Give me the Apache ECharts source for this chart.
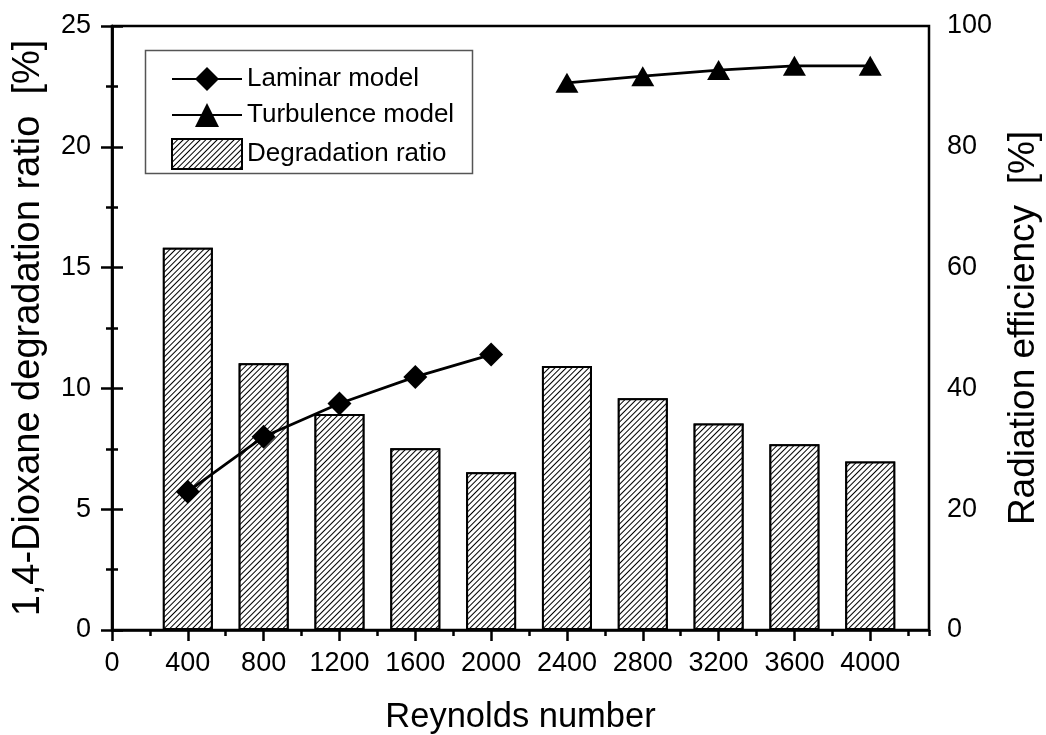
<!DOCTYPE html>
<html>
<head>
<meta charset="utf-8">
<script src="https://cdn.jsdelivr.net/npm/echarts@6/dist/echarts.min.js"></script>
<style>
html,body{margin:0;padding:0;background:#fff;}
#chart{width:1046px;height:735px;}
</style>
</head>
<body>
<div id="chart"></div>
<script>
// Reynolds numbers (x positions)
const reynolds = [400, 800, 1200, 1600, 2000, 2400, 2800, 3200, 3600, 4000];
// Degradation ratio [%] (left axis, bars)
const degradation = [15.82, 11.04, 8.94, 7.52, 6.53, 10.93, 9.59, 8.55, 7.69, 6.97];
// Radiation efficiency [%] (right axis)
const laminarRe = [400, 800, 1200, 1600, 2000];
const laminar = [22.9, 32.0, 37.5, 41.9, 45.6];
const turbulenceRe = [2400, 2800, 3200, 3600, 4000];
const turbulence = [90.6, 91.7, 92.7, 93.4, 93.4];

const FONT = 'Liberation Sans, Arial, sans-serif';

const chart = echarts.init(document.getElementById('chart'), null, {renderer: 'canvas'});

const axisLine = {show: true, lineStyle: {color: '#000', width: 2.5}};

chart.setOption({
  backgroundColor: '#fff',
  animation: false,
  grid: {left: 112, right: 117, top: 26, bottom: 105, containLabel: false, outerBoundsMode: 'none',
    show: true, borderColor: '#000', borderWidth: 2.5, backgroundColor: 'transparent'},
  legend: {
    orient: 'vertical',
    left: 171, top: 66, padding: 0,
    itemWidth: 70, itemHeight: 30, itemGap: 10,
    textStyle: {fontFamily: FONT, fontSize: 26, color: '#000'},
    data: [{name: 'Laminar model'}, {name: 'Turbulence model'}, {name: 'Degradation ratio', icon: 'rect'}]
  },
  graphic: [{
    type: 'rect', left: 143, top: 48, z: 0,
    shape: {width: 327, height: 123},
    style: {fill: 'none', stroke: '#555', lineWidth: 1.5}
  }],
  xAxis: [{
    type: 'value', min: 0, max: 4310, interval: 400,
    name: 'Reynolds number', nameLocation: 'middle', nameGap: 70,
    nameTextStyle: {fontFamily: FONT, fontSize: 34.5, color: '#000'},
    axisLine: axisLine,
    axisTick: {show: true, length: 11, lineStyle: {color: '#000', width: 2.5}},
    axisLabel: {fontFamily: FONT, fontSize: 27, color: '#000', margin: 20, showMaxLabel: false,
      formatter: v => (v % 400 === 0 ? String(v) : '')},
    splitLine: {show: false}
  }, {
    type: 'value', min: 0, max: 4310, interval: 200, position: 'bottom',
    axisLine: {show: false},
    axisTick: {show: true, length: 6, lineStyle: {color: '#000', width: 2.5}},
    axisLabel: {show: false},
    splitLine: {show: false}
  }],
  yAxis: [{
    type: 'value', min: 0, max: 25, interval: 5, position: 'left',
    name: '1,4-Dioxane degradation ratio  [%]', nameLocation: 'middle', nameGap: 64, nameRotate: 90,
    nameTextStyle: {fontFamily: FONT, fontSize: 38, color: '#000'},
    axisLine: axisLine,
    axisTick: {show: true, length: 11, lineStyle: {color: '#000', width: 2.5}},
    minorTick: {show: true, splitNumber: 2, length: 6, lineStyle: {color: '#000', width: 2.5}},
    axisLabel: {fontFamily: FONT, fontSize: 27, color: '#000', margin: 21},
    splitLine: {show: false}
  }, {
    type: 'value', min: 0, max: 100, interval: 20, position: 'right',
    name: 'Radiation efficiency  [%]', nameLocation: 'middle', nameGap: 76, nameRotate: 90,
    nameTextStyle: {fontFamily: FONT, fontSize: 37, color: '#000'},
    axisLine: axisLine,
    axisTick: {show: true, length: 11, lineStyle: {color: '#000', width: 2.5}},
    minorTick: {show: true, splitNumber: 2, length: 6, lineStyle: {color: '#000', width: 2.5}},
    axisLabel: {fontFamily: FONT, fontSize: 27, color: '#000', margin: 18},
    splitLine: {show: false}
  }],
  series: [{
    name: 'Degradation ratio', type: 'bar', xAxisIndex: 0, yAxisIndex: 0,
    barWidth: 50,
    data: reynolds.map((x, i) => [x, degradation[i]]),
    itemStyle: {
      color: '#fff', borderColor: '#000', borderWidth: 2,
      decal: {symbol: 'rect', symbolSize: 1, color: '#000', backgroundColor: '#fff',
        dashArrayX: [1, 0], dashArrayY: [1, 2.5], rotation: -Math.PI / 4}
    },
    z: 1
  }, {
    name: 'Laminar model', type: 'line', xAxisIndex: 0, yAxisIndex: 1,
    data: laminarRe.map((x, i) => [x, laminar[i]]),
    symbol: 'diamond', symbolSize: 24,
    lineStyle: {color: '#000', width: 2.8},
    itemStyle: {color: '#000'},
    z: 3
  }, {
    name: 'Turbulence model', type: 'line', xAxisIndex: 0, yAxisIndex: 1,
    data: turbulenceRe.map((x, i) => [x, turbulence[i]]),
    symbol: 'triangle', symbolSize: [23, 20],
    lineStyle: {color: '#000', width: 2.8},
    itemStyle: {color: '#000'},
    z: 3
  }]
});
</script>
</body>
</html>
